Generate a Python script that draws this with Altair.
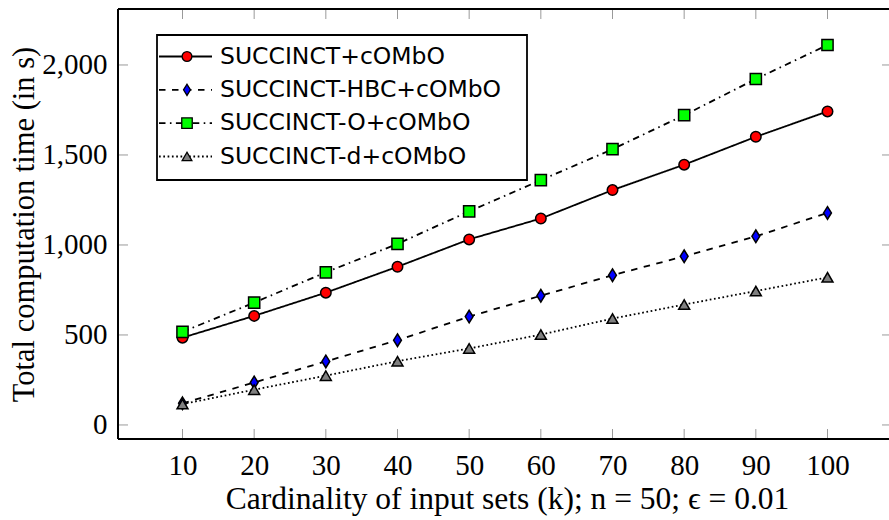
import altair as alt
import pandas as pd

# ---------------- data ----------------
k = [10, 20, 30, 40, 50, 60, 70, 80, 90, 100]
succinct = [485, 606, 735, 879, 1031, 1147, 1305, 1446, 1601, 1742]
succinct_hbc = [120, 236, 353, 471, 602, 718, 832, 937, 1048, 1178]
succinct_o = [517, 680, 848, 1006, 1187, 1360, 1532, 1721, 1922, 2111]
succinct_d = [116, 196, 274, 354, 425, 502, 591, 669, 744, 820]

series_names = ["SUCCINCT+cOMbO", "SUCCINCT-HBC+cOMbO", "SUCCINCT-O+cOMbO", "SUCCINCT-d+cOMbO"]
series_values = [succinct, succinct_hbc, succinct_o, succinct_d]

x_ticks = [10, 20, 30, 40, 50, 60, 70, 80, 90, 100]
y_ticks = [0, 500, 1000, 1500, 2000]

x_title = "Cardinality of input sets (k); n = 50; ϵ = 0.01"
y_title = "Total computation time (in s)"

# ---------------- styles ----------------
DIAMOND = "M0,-1L0.62,0L0,1L-0.62,0Z"
styles = [
    dict(dash=[1, 0], shape="circle", fill="#ff0000", size=110, lsize=95),
    dict(dash=[6.5, 6.5], shape=DIAMOND, fill="#0000ff", size=160, lsize=125),
    dict(dash=[6.5, 4.4, 1.6, 4.4], shape="square", fill="#00ff00", size=125, lsize=110),
    dict(dash=[1.7, 2.6], shape="triangle-up", fill="#808080", size=120, lsize=95),
]

W, H = 771, 430
X_DOMAIN = [1, 1 + W / 7.1667]
Y_DOMAIN = [-78, 2311]

SERIF = "Liberation Serif"
SANS = "DejaVu Sans"

xs = alt.Scale(domain=X_DOMAIN, nice=False, zero=False)
ys = alt.Scale(domain=Y_DOMAIN, nice=False, zero=False)

x_axis = alt.Axis(values=x_ticks, title=x_title, labelFlush=False,
                  labelBaseline="alphabetic", labelPadding=35,
                  titleFontSize=31.5,
                  titleX=389, titleY=69, titleBaseline="alphabetic", titleAlign="center")
y_axis = alt.Axis(values=y_ticks, title=y_title, format=",d", labelPadding=11,
                  titleFontSize=30.5,
                  titleX=-85, titleY=215, titleAngle=-90, titleBaseline="alphabetic",
                  titleAlign="center")

X = alt.X("k:Q", scale=xs, axis=x_axis)
Y = alt.Y("t:Q", scale=ys, axis=y_axis)

rows = []
for name, vals in zip(series_names, series_values):
    for kk, vv in zip(k, vals):
        rows.append({"series": name, "k": kk, "t": vv})
df = pd.DataFrame(rows)

main_layers = []
for name, st in zip(series_names, styles):
    base = alt.Chart(df).transform_filter(alt.datum.series == name)
    line = base.mark_line(color="black", strokeWidth=1.8, strokeDash=st["dash"]).encode(x=X, y=Y)
    pts = base.mark_point(shape=st["shape"], filled=True, fill=st["fill"], stroke="black",
                          strokeWidth=1.5, size=st["size"], opacity=1).encode(x=X, y=Y)
    main_layers += [line, pts]

# ticks (inward, gray) and frame
xt = pd.DataFrame({"k": x_ticks})
yt = pd.DataFrame({"t": y_ticks})
tick_color = "#9a9a9a"
bottom_ticks = alt.Chart(xt).mark_rule(color=tick_color, strokeWidth=1).encode(
    x=X, y=alt.value(H - 10), y2=alt.value(H))
top_ticks = alt.Chart(xt).mark_rule(color=tick_color, strokeWidth=1).encode(
    x=X, y=alt.value(0), y2=alt.value(10))
left_ticks = alt.Chart(yt).mark_rule(color=tick_color, strokeWidth=1).encode(
    y=Y, x=alt.value(0), x2=alt.value(10))
right_ticks = alt.Chart(yt).mark_rule(color=tick_color, strokeWidth=1).encode(
    y=Y, x=alt.value(W - 7), x2=alt.value(W))

one = pd.DataFrame({"a": [0]})
frame_left = alt.Chart(one).mark_rule(color="black", strokeWidth=2).encode(
    x=alt.value(0), y=alt.value(0), y2=alt.value(H))
frame_top = alt.Chart(one).mark_rule(color="black", strokeWidth=2).encode(
    x=alt.value(0), x2=alt.value(W), y=alt.value(0))
frame_bottom = alt.Chart(one).mark_rule(color="black", strokeWidth=2).encode(
    x=alt.value(0), x2=alt.value(W), y=alt.value(H))

main = alt.layer(bottom_ticks, top_ticks, left_ticks, right_ticks, *main_layers,
                 frame_left, frame_top, frame_bottom)

# ---------------- legend ----------------
legend_df = pd.DataFrame({"series": series_names, "row": [0, 1, 2, 3]})
RY = alt.Y("row:Q", scale=alt.Scale(domain=[0, 3], range=[47.5, 147.5]), axis=None)

legend_box = alt.Chart(one).mark_rect(fill="white", stroke="black", strokeWidth=1.8).encode(
    x=alt.value(39), x2=alt.value(409), y=alt.value(26), y2=alt.value(171))
legend_layers = [legend_box]
for name, st in zip(series_names, styles):
    lb = alt.Chart(legend_df).transform_filter(alt.datum.series == name)
    legend_layers.append(lb.mark_rule(color="black", strokeWidth=1.8, strokeDash=st["dash"]).encode(
        x=alt.value(41), x2=alt.value(94), y=RY))
    legend_layers.append(lb.mark_point(shape=st["shape"], filled=True, fill=st["fill"], stroke="black",
                                       strokeWidth=1.3, size=st["lsize"], opacity=1).encode(
        x=alt.value(69), y=RY))
legend_layers.append(alt.Chart(legend_df).mark_text(
    align="left", baseline="middle", font=SANS, fontSize=23.5, color="black").encode(
    x=alt.value(102), y=RY, text="series:N"))
legend = alt.layer(*legend_layers)

chart = alt.layer(main, legend).resolve_scale(y="independent").properties(
    width=W, height=H,
    autosize=alt.AutoSizeParams(type="none"),
    padding={"left": 118, "top": 9, "right": 0, "bottom": 81},
    background="white",
).configure_view(stroke="transparent").configure_axis(
    domain=False, ticks=False, tickSize=0, grid=False,
    labelFont=SERIF, labelFontSize=29, labelColor="black",
    titleFont=SERIF, titleFontSize=29, titleFontWeight="normal", titleColor="black",
)

chart.save("out.html", embed_options={"renderer": "svg", "actions": False})
